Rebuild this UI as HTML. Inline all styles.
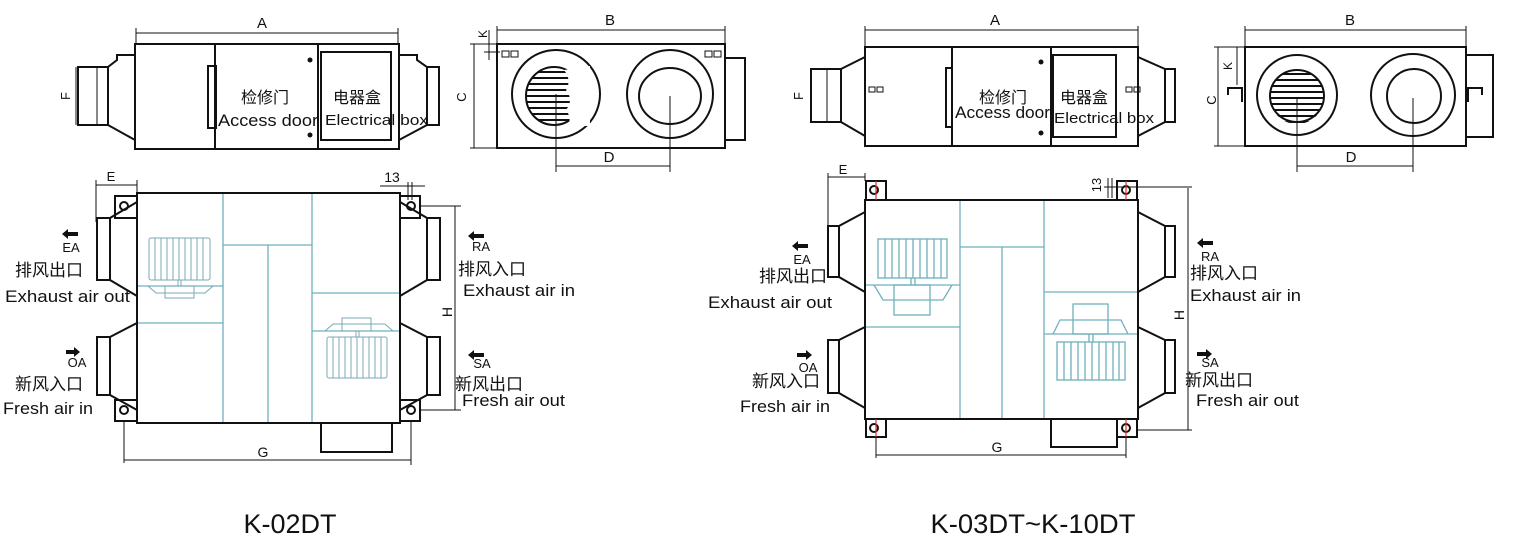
<!DOCTYPE html>
<html><head><meta charset="utf-8"><style>
html,body{margin:0;padding:0;background:#fff;width:1518px;height:547px;overflow:hidden}
svg{display:block}
text{font-family:"Liberation Sans","Noto Sans CJK SC",sans-serif;fill:#111}
.k{stroke:#111;fill:none;stroke-width:2}
.t{stroke:#111;fill:none;stroke-width:1}
.c{stroke:#6fb0bd;fill:none;stroke-width:1.3}
.cf{stroke:#7aa8b4;fill:none;stroke-width:1}
.r{stroke:#e03020;stroke-width:1.2}
</style></head><body>
<svg width="1518" height="547" viewBox="0 0 1518 547" xmlns="http://www.w3.org/2000/svg">
<defs>
<clipPath id="g1"><ellipse cx="554" cy="96" rx="28" ry="29"/></clipPath>
<clipPath id="g2"><ellipse cx="1297" cy="97" rx="27" ry="27"/></clipPath>
</defs>

<!-- ============ LEFT UNIT : side view 1 ============ -->
<line class="t" x1="136" y1="33" x2="398" y2="33"/><line class="t" x1="136" y1="28" x2="136" y2="44"/><line class="t" x1="398" y1="28" x2="398" y2="44"/>
<text x="262" y="28" font-size="15" text-anchor="middle">A</text>
<rect class="k" x="135" y="44" width="264" height="105"/>
<line class="k" x1="215" y1="44" x2="215" y2="149"/>
<line class="k" x1="318" y1="44" x2="318" y2="149"/>
<rect class="k" x="321" y="52" width="70" height="88"/>
<rect class="k" x="208" y="66" width="8" height="62"/>
<circle cx="310" cy="60" r="2.5" fill="#111"/><circle cx="310" cy="135" r="2.5" fill="#111"/>
<!-- left duct -->
<path class="k" d="M135,55 L117,55 L117,60 L108,67 L108,125 L135,140"/>
<rect class="k" x="78" y="67" width="30" height="58"/>
<line class="t" x1="97" y1="67" x2="97" y2="125"/>
<!-- right duct -->
<path class="k" d="M399,55 L417,55 L417,60 L427,67 L427,125 L399,140"/>
<rect class="k" x="427" y="67" width="12" height="58"/>
<line class="t" x1="76" y1="67" x2="76" y2="125"/>
<text x="70" y="96" font-size="13" transform="rotate(-90 70 96)" text-anchor="middle">F</text>
<text x="265" y="103" font-size="16" text-anchor="middle">检修门</text>
<text x="218" y="126" font-size="17" textLength="100" lengthAdjust="spacingAndGlyphs">Access door</text>
<text x="357" y="103" font-size="16" text-anchor="middle">电器盒</text>
<text x="325" y="125" font-size="15" textLength="103" lengthAdjust="spacingAndGlyphs">Electrical box</text>

<!-- ============ LEFT UNIT : side view 2 ============ -->
<line class="t" x1="497" y1="30" x2="725" y2="30"/><line class="t" x1="497" y1="26" x2="497" y2="44"/><line class="t" x1="725" y1="26" x2="725" y2="44"/>
<text x="610" y="25" font-size="15" text-anchor="middle">B</text>
<rect class="k" x="497" y="44" width="228" height="104"/>
<rect class="k" x="725" y="58" width="20" height="82"/>
<line class="t" x1="474" y1="44" x2="474" y2="148"/><line class="t" x1="470" y1="44" x2="496" y2="44"/><line class="t" x1="470" y1="148" x2="496" y2="148"/>
<line class="t" x1="489" y1="30" x2="489" y2="60"/><line class="t" x1="484" y1="52" x2="500" y2="52"/>
<text x="466" y="97" font-size="13" transform="rotate(-90 466 97)" text-anchor="middle">C</text>
<text x="487" y="34" font-size="12" transform="rotate(-90 487 34)" text-anchor="middle">K</text>
<rect class="t" x="502" y="51" width="7" height="6" stroke-width="2"/><rect class="t" x="511" y="51" width="7" height="6" stroke-width="2"/>
<rect class="t" x="705" y="51" width="7" height="6" stroke-width="2"/><rect class="t" x="714" y="51" width="7" height="6" stroke-width="2"/>
<ellipse class="k" cx="556" cy="94" rx="44" ry="44"/>
<ellipse class="k" cx="554" cy="96" rx="28" ry="29"/>
<g clip-path="url(#g1)" stroke="#111" stroke-width="2">
<line x1="520" y1="72" x2="590" y2="72"/><line x1="520" y1="78" x2="590" y2="78"/><line x1="520" y1="84" x2="590" y2="84"/><line x1="520" y1="90" x2="590" y2="90"/><line x1="520" y1="96" x2="590" y2="96"/><line x1="520" y1="102" x2="590" y2="102"/><line x1="520" y1="108" x2="590" y2="108"/><line x1="520" y1="114" x2="590" y2="114"/><line x1="520" y1="120" x2="590" y2="120"/>
</g>
<path d="M564,70 Q572,80 566,90 Q574,100 566,110 Q572,118 568,126 L590,126 L590,66 Z" fill="#fff"/>
<ellipse class="k" cx="670" cy="94" rx="43" ry="44"/>
<ellipse class="k" cx="670" cy="96" rx="31" ry="28"/>
<line class="t" x1="556" y1="94" x2="556" y2="172"/><line class="t" x1="670" y1="96" x2="670" y2="172"/><line class="t" x1="556" y1="166" x2="670" y2="166"/>
<text x="609" y="162" font-size="15" text-anchor="middle">D</text>

<!-- ============ LEFT UNIT : plan ============ -->
<line class="t" x1="96" y1="185" x2="137" y2="185"/><line class="t" x1="96" y1="180" x2="96" y2="222"/><line class="t" x1="137" y1="180" x2="137" y2="193"/>
<text x="111" y="181" font-size="13" text-anchor="middle">E</text>
<text x="392" y="182" font-size="14" text-anchor="middle">13</text>
<line class="t" x1="380" y1="186" x2="425" y2="186"/><line class="t" x1="408" y1="182" x2="408" y2="200"/><line class="t" x1="412" y1="182" x2="412" y2="200"/>
<!-- teal internals -->
<g class="c">
<line x1="223" y1="193" x2="223" y2="423"/><line x1="312" y1="193" x2="312" y2="423"/>
<line x1="223" y1="245" x2="312" y2="245"/><line x1="268" y1="245" x2="268" y2="423"/>
<line x1="137" y1="286" x2="223" y2="286"/><line x1="137" y1="323" x2="223" y2="323"/>
<line x1="312" y1="293" x2="400" y2="293"/><line x1="312" y1="331" x2="400" y2="331"/>
</g>
<g class="cf">
<rect x="149" y="238" width="61" height="42" rx="2"/>
<line x1="155" y1="238" x2="155" y2="280"/><line x1="161" y1="238" x2="161" y2="280"/><line x1="167" y1="238" x2="167" y2="280"/><line x1="173" y1="238" x2="173" y2="280"/><line x1="179" y1="238" x2="179" y2="280"/><line x1="185" y1="238" x2="185" y2="280"/><line x1="191" y1="238" x2="191" y2="280"/><line x1="197" y1="238" x2="197" y2="280"/><line x1="203" y1="238" x2="203" y2="280"/>
<line x1="178" y1="280" x2="178" y2="286"/><line x1="181" y1="280" x2="181" y2="286"/>
<path d="M148,286 L156,293 L205,293 L213,286"/>
<rect x="165" y="286" width="29" height="12"/>
<rect x="327" y="337" width="60" height="41" rx="2"/>
<line x1="333" y1="337" x2="333" y2="378"/><line x1="339" y1="337" x2="339" y2="378"/><line x1="345" y1="337" x2="345" y2="378"/><line x1="351" y1="337" x2="351" y2="378"/><line x1="357" y1="337" x2="357" y2="378"/><line x1="363" y1="337" x2="363" y2="378"/><line x1="369" y1="337" x2="369" y2="378"/><line x1="375" y1="337" x2="375" y2="378"/><line x1="381" y1="337" x2="381" y2="378"/>
<line x1="356" y1="331" x2="356" y2="337"/><line x1="359" y1="331" x2="359" y2="337"/>
<path d="M325,331 L333,324 L385,324 L393,331"/>
<rect x="342" y="318" width="29" height="13"/>
</g>
<rect class="k" x="137" y="193" width="263" height="230"/>
<!-- ducts left -->
<path class="k" d="M137,202 L110,218 L110,280 L137,296"/><rect class="k" x="97" y="218" width="13" height="62"/>
<path class="k" d="M137,323 L110,337 L110,395 L137,410"/><rect class="k" x="97" y="337" width="13" height="58"/>
<!-- ducts right -->
<path class="k" d="M400,202 L427,218 L427,280 L400,296"/><rect class="k" x="427" y="218" width="13" height="62"/>
<path class="k" d="M400,323 L427,337 L427,395 L400,410"/><rect class="k" x="427" y="337" width="13" height="58"/>
<!-- corner brackets -->
<g class="k" stroke-width="1.6">
<rect x="115" y="196" width="22" height="22"/><circle cx="124" cy="206" r="4"/>
<rect x="115" y="400" width="22" height="21"/><circle cx="124" cy="410" r="4"/>
<rect x="400" y="196" width="20" height="22"/><circle cx="411" cy="206" r="4"/>
<rect x="400" y="400" width="20" height="21"/><circle cx="411" cy="410" r="4"/>
</g>
<rect class="k" x="321" y="423" width="71" height="29"/>
<line class="t" x1="124" y1="421" x2="124" y2="463" stroke-width="1.5"/><line class="t" x1="411" y1="421" x2="411" y2="465"/>
<line class="t" x1="124" y1="460" x2="411" y2="460"/>
<text x="263" y="457" font-size="14" text-anchor="middle">G</text>
<line class="t" x1="455" y1="206" x2="455" y2="410"/><line class="t" x1="420" y1="206" x2="461" y2="206"/><line class="t" x1="420" y1="410" x2="461" y2="410"/>
<text x="452" y="312" font-size="14" transform="rotate(-90 452 312)" text-anchor="middle">H</text>
<!-- labels left unit -->
<path d="M62,234 L68,229 L68,232 L78,232 L78,236 L68,236 L68,239 Z" fill="#111"/>
<text x="71" y="252" font-size="13" text-anchor="middle">EA</text>
<text x="15" y="276" font-size="17">排风出口</text>
<text x="5" y="302" font-size="17" textLength="125" lengthAdjust="spacingAndGlyphs">Exhaust air out</text>
<path d="M80,352 L74,347 L74,350 L66,350 L66,354 L74,354 L74,357 Z" fill="#111"/>
<text x="77" y="367" font-size="13" text-anchor="middle">OA</text>
<text x="15" y="390" font-size="17">新风入口</text>
<text x="3" y="414" font-size="17" textLength="90" lengthAdjust="spacingAndGlyphs">Fresh air in</text>
<path d="M468,236 L474,231 L474,234 L484,234 L484,238 L474,238 L474,241 Z" fill="#111"/>
<text x="481" y="251" font-size="13" text-anchor="middle">RA</text>
<text x="458" y="275" font-size="17">排风入口</text>
<text x="463" y="296" font-size="17" textLength="112" lengthAdjust="spacingAndGlyphs">Exhaust air in</text>
<path d="M468,355 L474,350 L474,353 L484,353 L484,357 L474,357 L474,360 Z" fill="#111"/>
<text x="482" y="368" font-size="13" text-anchor="middle">SA</text>
<text x="455" y="390" font-size="17">新风出口</text>
<text x="462" y="406" font-size="17" textLength="103" lengthAdjust="spacingAndGlyphs">Fresh air out</text>
<text x="290" y="533" font-size="27" text-anchor="middle" textLength="93" lengthAdjust="spacingAndGlyphs">K-02DT</text>

<!-- ============ RIGHT UNIT : side view 1 ============ -->
<line class="t" x1="865" y1="30" x2="1138" y2="30"/><line class="t" x1="865" y1="26" x2="865" y2="47"/><line class="t" x1="1138" y1="26" x2="1138" y2="47"/>
<text x="995" y="25" font-size="15" text-anchor="middle">A</text>
<rect class="k" x="865" y="47" width="273" height="99"/>
<line class="k" x1="952" y1="47" x2="952" y2="146"/>
<line class="k" x1="1051" y1="47" x2="1051" y2="146"/>
<rect class="k" x="1053" y="55" width="63" height="82"/>
<rect class="k" x="946" y="68" width="6" height="59"/>
<circle cx="1041" cy="62" r="2.5" fill="#111"/><circle cx="1041" cy="133" r="2.5" fill="#111"/>
<path class="k" d="M865,57 L841,69 L841,122 L865,136"/><rect class="k" x="811" y="69" width="30" height="53"/><line class="t" x1="827" y1="69" x2="827" y2="122"/>
<path class="k" d="M1138,57 L1165,69 L1165,122 L1138,136"/><rect class="k" x="1165" y="69" width="10" height="53"/>
<rect class="t" x="869" y="87" width="6" height="5" stroke-width="2"/><rect class="t" x="877" y="87" width="6" height="5" stroke-width="2"/>
<rect class="t" x="1126" y="87" width="6" height="5" stroke-width="2"/><rect class="t" x="1134" y="87" width="6" height="5" stroke-width="2"/>
<text x="803" y="96" font-size="13" transform="rotate(-90 803 96)" text-anchor="middle">F</text>
<text x="1003" y="103" font-size="16" text-anchor="middle">检修门</text>
<text x="955" y="118" font-size="17" textLength="95" lengthAdjust="spacingAndGlyphs">Access door</text>
<text x="1084" y="103" font-size="16" text-anchor="middle">电器盒</text>
<text x="1054" y="123" font-size="15" textLength="100" lengthAdjust="spacingAndGlyphs">Electrical box</text>

<!-- ============ RIGHT UNIT : side view 2 ============ -->
<line class="t" x1="1245" y1="30" x2="1466" y2="30"/><line class="t" x1="1245" y1="26" x2="1245" y2="47"/><line class="t" x1="1466" y1="26" x2="1466" y2="47"/>
<text x="1350" y="25" font-size="15" text-anchor="middle">B</text>
<rect class="k" x="1245" y="47" width="221" height="99"/>
<rect class="k" x="1466" y="55" width="27" height="82"/>
<line class="t" x1="1218" y1="47" x2="1218" y2="146"/><line class="t" x1="1214" y1="47" x2="1244" y2="47"/><line class="t" x1="1214" y1="146" x2="1244" y2="146"/>
<line class="t" x1="1237" y1="47" x2="1237" y2="85"/>
<text x="1216" y="100" font-size="13" transform="rotate(-90 1216 100)" text-anchor="middle">C</text>
<text x="1232" y="66" font-size="12" transform="rotate(-90 1232 66)" text-anchor="middle">K</text>
<path class="k" d="M1228,95 L1228,88 L1242,88 L1242,102"/>
<path class="k" d="M1482,95 L1482,88 L1468,88 L1468,102"/>
<ellipse class="k" cx="1297" cy="95" rx="40" ry="40"/>
<ellipse class="k" cx="1297" cy="96" rx="27" ry="26"/>
<g clip-path="url(#g2)" stroke="#111" stroke-width="2">
<line x1="1265" y1="74" x2="1330" y2="74"/><line x1="1265" y1="80" x2="1330" y2="80"/><line x1="1265" y1="86" x2="1330" y2="86"/><line x1="1265" y1="92" x2="1330" y2="92"/><line x1="1265" y1="98" x2="1330" y2="98"/><line x1="1265" y1="104" x2="1330" y2="104"/><line x1="1265" y1="110" x2="1330" y2="110"/><line x1="1265" y1="116" x2="1330" y2="116"/><line x1="1265" y1="122" x2="1330" y2="122"/>
</g>
<ellipse class="k" cx="1413" cy="95" rx="42" ry="41"/>
<ellipse class="k" cx="1414" cy="96" rx="27" ry="27"/>
<line class="t" x1="1297" y1="98" x2="1297" y2="172"/><line class="t" x1="1413" y1="98" x2="1413" y2="172"/><line class="t" x1="1297" y1="166" x2="1413" y2="166"/>
<text x="1351" y="162" font-size="15" text-anchor="middle">D</text>

<!-- ============ RIGHT UNIT : plan ============ -->
<line class="t" x1="828" y1="177" x2="865" y2="177"/><line class="t" x1="828" y1="173" x2="828" y2="226"/><line class="t" x1="865" y1="173" x2="865" y2="181"/>
<text x="843" y="174" font-size="13" text-anchor="middle">E</text>
<text x="1101" y="185" font-size="13" transform="rotate(-90 1101 185)" text-anchor="middle">13</text>
<line class="t" x1="1108" y1="178" x2="1108" y2="198"/><line class="t" x1="1112" y1="178" x2="1112" y2="198"/><line class="t" x1="1104" y1="187" x2="1192" y2="187"/>
<g class="c">
<line x1="960" y1="200" x2="960" y2="419"/><line x1="1044" y1="200" x2="1044" y2="419"/>
<line x1="960" y1="262" x2="1044" y2="262" transform="translate(0,-15)"/><line x1="1002" y1="247" x2="1002" y2="419"/>
<line x1="865" y1="285" x2="960" y2="285"/><line x1="865" y1="327" x2="960" y2="327"/>
<line x1="1044" y1="292" x2="1138" y2="292"/><line x1="1044" y1="334" x2="1138" y2="334"/>
</g>
<g class="c" stroke-width="1">
<rect x="878" y="239" width="69" height="39"/>
<line x1="885" y1="239" x2="885" y2="278"/><line x1="892" y1="239" x2="892" y2="278"/><line x1="899" y1="239" x2="899" y2="278"/><line x1="906" y1="239" x2="906" y2="278"/><line x1="913" y1="239" x2="913" y2="278"/><line x1="920" y1="239" x2="920" y2="278"/><line x1="927" y1="239" x2="927" y2="278"/><line x1="934" y1="239" x2="934" y2="278"/><line x1="941" y1="239" x2="941" y2="278"/>
<line x1="911" y1="278" x2="911" y2="285"/><line x1="915" y1="278" x2="915" y2="285"/>
<path d="M874,285 L883,300 L943,300 L952,285"/>
<rect x="894" y="285" width="36" height="30"/>
<rect x="1057" y="342" width="68" height="38"/>
<line x1="1064" y1="342" x2="1064" y2="380"/><line x1="1071" y1="342" x2="1071" y2="380"/><line x1="1078" y1="342" x2="1078" y2="380"/><line x1="1085" y1="342" x2="1085" y2="380"/><line x1="1092" y1="342" x2="1092" y2="380"/><line x1="1099" y1="342" x2="1099" y2="380"/><line x1="1106" y1="342" x2="1106" y2="380"/><line x1="1113" y1="342" x2="1113" y2="380"/><line x1="1119" y1="342" x2="1119" y2="380"/>
<line x1="1089" y1="334" x2="1089" y2="342"/><line x1="1093" y1="334" x2="1093" y2="342"/>
<path d="M1053,334 L1060,320 L1121,320 L1128,334"/>
<rect x="1073" y="304" width="35" height="30"/>
</g>
<rect class="k" x="865" y="200" width="273" height="219"/>
<path class="k" d="M865,212 L839,226 L839,277 L865,292"/><rect class="k" x="828" y="226" width="11" height="51"/>
<path class="k" d="M865,327 L839,340 L839,393 L865,408"/><rect class="k" x="828" y="340" width="11" height="53"/>
<path class="k" d="M1138,212 L1165,226 L1165,277 L1138,292"/><rect class="k" x="1165" y="226" width="10" height="51"/>
<path class="k" d="M1138,327 L1165,340 L1165,393 L1138,408"/><rect class="k" x="1165" y="340" width="10" height="53"/>
<g class="k" stroke-width="1.6">
<rect x="866" y="181" width="20" height="19"/><circle cx="874" cy="190" r="4"/>
<rect x="866" y="419" width="20" height="18"/><circle cx="874" cy="428" r="4"/>
<rect x="1117" y="181" width="20" height="19"/><circle cx="1126" cy="190" r="4"/>
<rect x="1117" y="419" width="20" height="18"/><circle cx="1126" cy="428" r="4"/>
</g>
<line class="r" x1="876" y1="181" x2="876" y2="200"/><line class="r" x1="1126" y1="181" x2="1126" y2="200"/>
<line class="r" x1="876" y1="419" x2="876" y2="437"/><line class="r" x1="1126" y1="419" x2="1126" y2="437"/>
<rect class="k" x="1051" y="419" width="66" height="28"/>
<line class="t" x1="876" y1="437" x2="876" y2="458" stroke-width="1.5"/><line class="t" x1="1126" y1="437" x2="1126" y2="458"/>
<line class="t" x1="876" y1="455" x2="1126" y2="455"/>
<text x="997" y="452" font-size="14" text-anchor="middle">G</text>
<line class="t" x1="1188" y1="188" x2="1188" y2="430"/><line class="t" x1="1138" y1="430" x2="1192" y2="430"/>
<text x="1184" y="315" font-size="14" transform="rotate(-90 1184 315)" text-anchor="middle">H</text>
<path d="M792,246 L798,241 L798,244 L808,244 L808,248 L798,248 L798,251 Z" fill="#111"/>
<text x="802" y="264" font-size="13" text-anchor="middle">EA</text>
<text x="759" y="282" font-size="17">排风出口</text>
<text x="708" y="308" font-size="17" textLength="124" lengthAdjust="spacingAndGlyphs">Exhaust air out</text>
<path d="M812,355 L806,350 L806,353 L797,353 L797,357 L806,357 L806,360 Z" fill="#111"/>
<text x="808" y="372" font-size="13" text-anchor="middle">OA</text>
<text x="752" y="387" font-size="17">新风入口</text>
<text x="740" y="412" font-size="17" textLength="90" lengthAdjust="spacingAndGlyphs">Fresh air in</text>
<path d="M1197,243 L1203,238 L1203,241 L1213,241 L1213,245 L1203,245 L1203,248 Z" fill="#111"/>
<text x="1210" y="261" font-size="13" text-anchor="middle">RA</text>
<text x="1190" y="279" font-size="17">排风入口</text>
<text x="1190" y="301" font-size="17" textLength="111" lengthAdjust="spacingAndGlyphs">Exhaust air in</text>
<path d="M1212,354 L1206,349 L1206,352 L1197,352 L1197,356 L1206,356 L1206,359 Z" fill="#111"/>
<text x="1210" y="367" font-size="13" text-anchor="middle">SA</text>
<text x="1185" y="386" font-size="17">新风出口</text>
<text x="1196" y="406" font-size="17" textLength="103" lengthAdjust="spacingAndGlyphs">Fresh air out</text>
<text x="1033" y="533" font-size="27" text-anchor="middle" textLength="205" lengthAdjust="spacingAndGlyphs">K-03DT~K-10DT</text>
</svg>
</body></html>
